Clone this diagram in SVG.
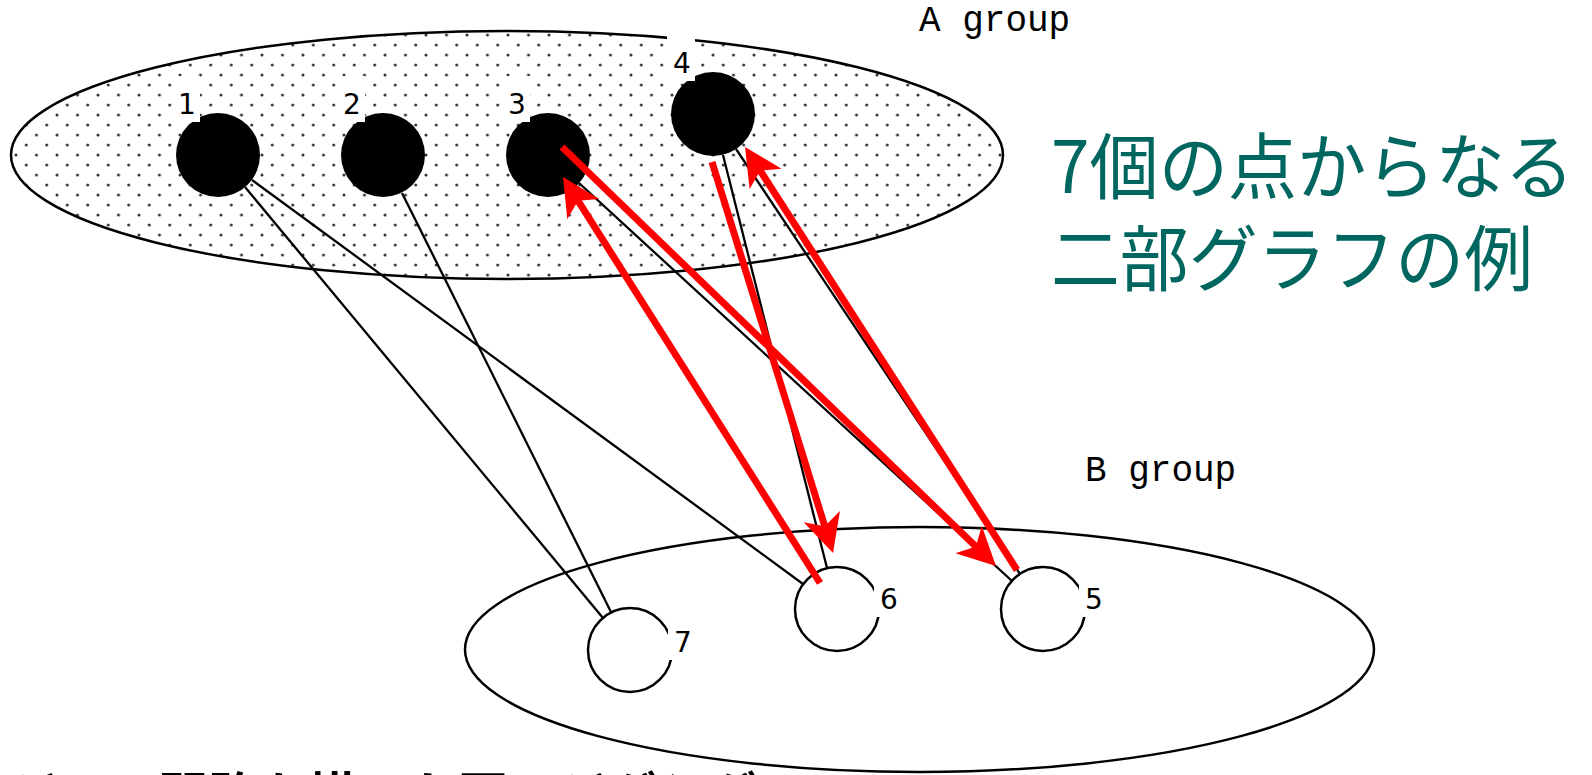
<svg xmlns="http://www.w3.org/2000/svg" width="1592" height="775" viewBox="0 0 1592 775">
<defs>
<pattern id="dots" patternUnits="userSpaceOnUse" x="590" y="135" width="20.5" height="20">
<circle cx="0" cy="0" r="1.5" fill="#333"/>
<circle cx="20.5" cy="0" r="1.5" fill="#333"/>
<circle cx="0" cy="20" r="1.5" fill="#333"/>
<circle cx="20.5" cy="20" r="1.5" fill="#333"/>
<circle cx="10.25" cy="10" r="1.5" fill="#333"/>
</pattern>
<marker id="ah" markerUnits="userSpaceOnUse" markerWidth="60" markerHeight="60" refX="0" refY="0" viewBox="-30 -30 60 60" orient="auto" overflow="visible">
<path d="M14,0 L-24,-19 L-14,0 L-24,19 Z" fill="#ff0000"/>
</marker>
<style>
.grp{fill:none;stroke:#000;stroke-width:2.5}
.edge{stroke:#000;stroke-width:2.3;fill:none}
.red{stroke:#ff0000;stroke-width:7;fill:none;marker-end:url(#ah)}
.a{fill:#000}
.b{fill:#fff;stroke:#000;stroke-width:2.5}
.lb{fill:#fff}
.num{font-family:"DejaVu Sans",sans-serif;font-size:28px;fill:#000}
.gl{font-family:"Liberation Mono",monospace;font-size:36px;fill:#000}
.title{font-family:"Noto Sans CJK JP",sans-serif;font-size:72px;fill:#006660}
.cap{font-family:"Noto Sans CJK JP",sans-serif;font-size:50px;font-weight:bold;fill:#000}
</style>
</defs>
<rect width="1592" height="775" fill="#fff"/>
<g id="groupA">
<ellipse cx="507" cy="155" rx="496" ry="124" fill="url(#dots)" stroke="#000" stroke-width="2.5"/>
<text class="gl" x="919" y="31">A group</text>
</g>
<g id="groupB">
<ellipse class="grp" cx="919.5" cy="649.5" rx="454.5" ry="122.5"/>
<text class="gl" x="1085" y="481">B group</text>
</g>
<g id="edges">
<line class="edge" x1="245" y1="187" x2="603" y2="618"/>
<line class="edge" x1="252" y1="180" x2="803" y2="584"/>
<line class="edge" x1="402" y1="193" x2="611" y2="612"/>
<line class="edge" x1="579" y1="183" x2="1012" y2="581"/>
<line class="edge" x1="723" y1="155" x2="827" y2="568"/>
<line class="edge" x1="736" y1="149" x2="1020" y2="574"/>
</g>
<g id="node1"><circle class="a" cx="218" cy="155" r="42"/><rect class="lb" x="172" y="76" width="28" height="46"/><text class="num" x="178" y="114">1</text></g>
<g id="node2"><circle class="a" cx="383" cy="155" r="42"/><rect class="lb" x="337" y="76" width="28" height="46"/><text class="num" x="343" y="114">2</text></g>
<g id="node3"><circle class="a" cx="548" cy="155" r="42"/><rect class="lb" x="502" y="76" width="28" height="46"/><text class="num" x="508" y="114">3</text></g>
<g id="node4"><circle class="a" cx="713" cy="114" r="42"/><rect class="lb" x="667" y="35" width="28" height="46"/><text class="num" x="673" y="73">4</text></g>
<g id="node5"><circle class="b" cx="1043" cy="609" r="42"/><rect class="lb" x="1079" y="571" width="28" height="46"/><text class="num" x="1085" y="609">5</text></g>
<g id="node6"><circle class="b" cx="837" cy="609" r="42"/><rect class="lb" x="874" y="571" width="28" height="46"/><text class="num" x="880" y="609">6</text></g>
<g id="node7"><circle class="b" cx="630" cy="650" r="42"/><rect class="lb" x="668" y="614" width="28" height="46"/><text class="num" x="674" y="652">7</text></g>
<g id="matching">
<line class="red" x1="820" y1="583" x2="570.5" y2="188.8"/>
<line class="red" x1="562" y1="147" x2="985.9" y2="556.3"/>
<line class="red" x1="712" y1="162" x2="828.9" y2="539.6"/>
<line class="red" x1="1017" y1="570" x2="752.6" y2="158.8"/>
</g>
<g id="title">
<text class="title" x="1051" y="193" textLength="523" lengthAdjust="spacingAndGlyphs">7個の点からなる</text>
<text class="title" x="1051" y="285" textLength="482" lengthAdjust="spacingAndGlyphs">二部グラフの例</text>
</g>
<text class="cap" x="8" y="814">ジョー開路を描いた図ラジグシグ</text>
</svg>
